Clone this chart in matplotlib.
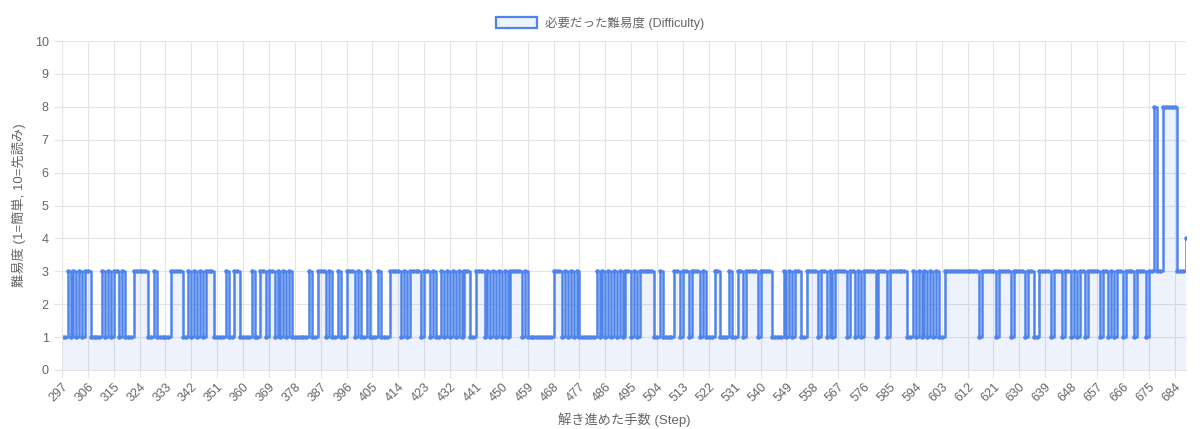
import matplotlib
matplotlib.use("Agg")
import matplotlib.pyplot as plt
from matplotlib.patches import Patch
import numpy as np

plt.rcParams['font.family'] = ['Liberation Sans', 'Noto Sans CJK JP', 'DejaVu Sans']

# datos: un valor por paso, desde 297 hasta 688
first_step = 297
difficulty = [
    1, 1, 3, 1, 3, 1, 3, 1, 3, 3,  # 297
    1, 1, 1, 1, 3, 1, 3, 1, 3, 3,  # 307
    1, 3, 1, 1, 1, 3, 3, 3, 3, 3,  # 317
    1, 1, 3, 1, 1, 1, 1, 1, 3, 3,  # 327
    3, 3, 1, 1, 3, 1, 3, 1, 3, 1,  # 337
    3, 3, 3, 1, 1, 1, 1, 3, 1, 1,  # 347
    3, 3, 1, 1, 1, 1, 3, 1, 1, 3,  # 357
    3, 1, 3, 3, 1, 3, 1, 3, 1, 3,  # 367
    1, 1, 1, 1, 1, 1, 3, 1, 1, 3,  # 377
    3, 3, 1, 3, 1, 1, 3, 1, 1, 3,  # 387
    3, 3, 1, 3, 1, 1, 3, 1, 1, 1,  # 397
    3, 1, 1, 1, 3, 3, 3, 3, 1, 3,  # 407
    1, 3, 3, 3, 3, 1, 3, 3, 1, 3,  # 417
    1, 1, 3, 1, 3, 1, 3, 1, 3, 1,  # 427
    3, 3, 1, 1, 3, 3, 3, 1, 3, 1,  # 437
    3, 1, 3, 1, 3, 1, 3, 3, 3, 3,  # 447
    1, 3, 1, 1, 1, 1, 1, 1, 1, 1,  # 457
    1, 3, 3, 3, 1, 3, 1, 3, 1, 3,  # 467
    1, 1, 1, 1, 1, 1, 3, 1, 3, 1,  # 477
    3, 1, 3, 1, 3, 1, 3, 3, 1, 3,  # 487
    1, 3, 3, 3, 3, 3, 1, 1, 3, 1,  # 497
    1, 1, 1, 3, 3, 1, 3, 3, 1, 3,  # 507
    3, 3, 1, 3, 1, 1, 1, 3, 3, 1,  # 517
    1, 1, 3, 1, 1, 3, 3, 1, 3, 3,  # 527
    3, 3, 1, 3, 3, 3, 3, 1, 1, 1,  # 537
    1, 3, 1, 3, 1, 3, 3, 1, 1, 3,  # 547
    3, 3, 3, 1, 3, 3, 1, 3, 1, 3,  # 557
    3, 3, 3, 1, 3, 3, 1, 3, 1, 3,  # 567
    3, 3, 3, 1, 3, 3, 3, 1, 3, 3,  # 577
    3, 3, 3, 3, 1, 1, 3, 1, 3, 1,  # 587
    3, 1, 3, 1, 3, 1, 1, 3, 3, 3,  # 597
    3, 3, 3, 3, 3, 3, 3, 3, 3, 1,  # 607
    3, 3, 3, 3, 3, 1, 3, 3, 3, 3,  # 617
    1, 3, 3, 3, 3, 1, 3, 3, 1, 1,  # 627
    3, 3, 3, 3, 1, 3, 3, 3, 1, 3,  # 637
    3, 1, 3, 1, 3, 3, 1, 3, 3, 3,  # 647
    3, 1, 3, 3, 1, 3, 1, 3, 3, 1,  # 657
    3, 3, 3, 1, 3, 3, 3, 1, 3, 3,  # 667
    8, 3, 3, 8, 8, 8, 8, 8, 3, 3,  # 677
    3, 4,                          # 687
]
steps = list(range(first_step, first_step + len(difficulty)))

x_ticks = list(range(297, 685, 9))
y_ticks = list(range(0, 11))

legend_label = "必要だった難易度 (Difficulty)"
x_title = "解き進めた手数 (Step)"
y_title = "難易度 (1=簡単, 10=先読み)"

line_color = "#4f84ea"
fill_color = (79/255, 132/255, 234/255, 0.10)
grid_color = "#e4e4e4"
text_color = "#666666"

fig = plt.figure(figsize=(12, 4.29), dpi=100)
ax = fig.add_axes([62/1200, 1-370/429, (1186-62)/1200, (370-41)/429])

ax.fill_between(steps, difficulty, 0, step='post', color=fill_color, linewidth=0)
ax.plot(steps, difficulty, drawstyle='steps-post', color=line_color, linewidth=1.8,
        marker='o', markersize=3.3, markeredgewidth=0, markerfacecolor=line_color)

ax.set_xlim(steps[0], steps[-1])
ax.set_ylim(0, 10)
ax.set_xticks(x_ticks)
ax.set_xticklabels([str(t) for t in x_ticks], rotation=45, ha='right', rotation_mode='anchor')
ax.set_yticks(y_ticks)

ax.grid(True, color=grid_color, linewidth=0.8)
ax.set_axisbelow(True)
for s in ['top', 'right']:
    ax.spines[s].set_visible(False)
for s in ['left', 'bottom']:
    ax.spines[s].set_color(grid_color)
    ax.spines[s].set_linewidth(0.8)
ax.tick_params(axis='both', colors=grid_color, labelcolor=text_color, labelsize=9,
               length=6, width=0.8)
ax.tick_params(axis='x', pad=2)

ax.set_xlabel(x_title, color=text_color, fontsize=9.5, labelpad=6)
ax.set_ylabel(y_title, color=text_color, fontsize=9.5, labelpad=6)

handle = Patch(facecolor=fill_color, edgecolor=line_color, linewidth=1.6)
fig.legend([handle], [legend_label], loc='center', bbox_to_anchor=(0.5, 1-23/429),
           frameon=False, fontsize=9, labelcolor=text_color,
           handlelength=3.3, handleheight=1.0, handletextpad=0.6)

fig.savefig("out.png", dpi=100)
